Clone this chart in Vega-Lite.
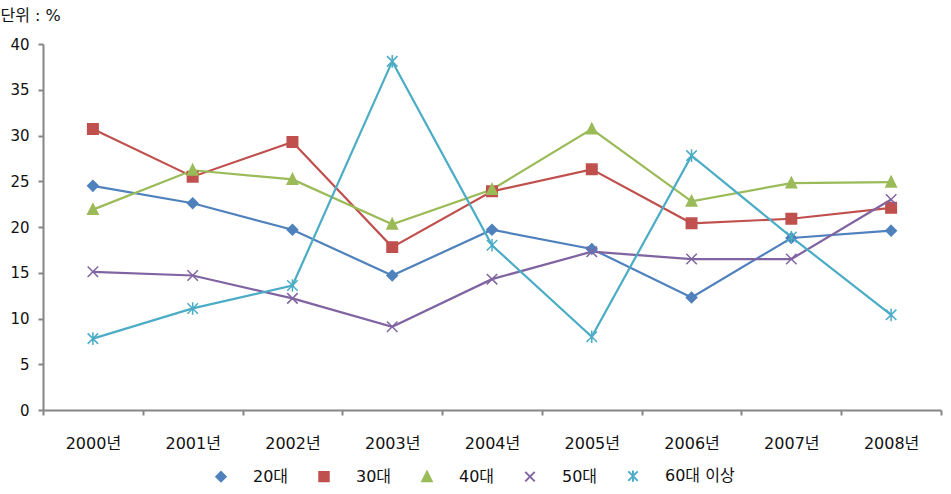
{
  "$schema": "https://vega.github.io/schema/vega-lite/v6.json",
  "width": 898,
  "height": 366,
  "autosize": "none",
  "padding": {"left": 43, "top": 44, "right": 10, "bottom": 84},
  "background": "white",
  "config": {
    "view": {"stroke": null},
    "font": "DejaVu Sans, Noto Sans CJK KR",
    "axis": {"grid": false, "domainColor": "#868686", "domainWidth": 2, "tickColor": "#868686", "tickWidth": 2, "tickSize": 5, "labelColor": "#111", "labelFont": "DejaVu Sans, Noto Sans CJK KR", "labelFontSize": 15},
    "legend": {"title": null, "orient": "none", "legendX": 170, "legendY": 424, "direction": "horizontal", "columns": 5,
      "symbolSize": 90, "labelFontSize": 16, "labelFont": "DejaVu Sans, Noto Sans CJK KR", "labelColor": "#111",
      "labelOffset": 24, "columnPadding": 26, "symbolStrokeWidth": 2}
  },
  "data": {"values": [
    {"year": "2000년", "group": "20대", "value": 24.5},
    {"year": "2001년", "group": "20대", "value": 22.6},
    {"year": "2002년", "group": "20대", "value": 19.7},
    {"year": "2003년", "group": "20대", "value": 14.7},
    {"year": "2004년", "group": "20대", "value": 19.7},
    {"year": "2005년", "group": "20대", "value": 17.6},
    {"year": "2006년", "group": "20대", "value": 12.3},
    {"year": "2007년", "group": "20대", "value": 18.8},
    {"year": "2008년", "group": "20대", "value": 19.6},
    {"year": "2000년", "group": "30대", "value": 30.7},
    {"year": "2001년", "group": "30대", "value": 25.5},
    {"year": "2002년", "group": "30대", "value": 29.3},
    {"year": "2003년", "group": "30대", "value": 17.8},
    {"year": "2004년", "group": "30대", "value": 23.9},
    {"year": "2005년", "group": "30대", "value": 26.3},
    {"year": "2006년", "group": "30대", "value": 20.4},
    {"year": "2007년", "group": "30대", "value": 20.9},
    {"year": "2008년", "group": "30대", "value": 22.1},
    {"year": "2000년", "group": "40대", "value": 21.9},
    {"year": "2001년", "group": "40대", "value": 26.2},
    {"year": "2002년", "group": "40대", "value": 25.2},
    {"year": "2003년", "group": "40대", "value": 20.3},
    {"year": "2004년", "group": "40대", "value": 24.1},
    {"year": "2005년", "group": "40대", "value": 30.7},
    {"year": "2006년", "group": "40대", "value": 22.8},
    {"year": "2007년", "group": "40대", "value": 24.8},
    {"year": "2008년", "group": "40대", "value": 24.9},
    {"year": "2000년", "group": "50대", "value": 15.1},
    {"year": "2001년", "group": "50대", "value": 14.7},
    {"year": "2002년", "group": "50대", "value": 12.2},
    {"year": "2003년", "group": "50대", "value": 9.1},
    {"year": "2004년", "group": "50대", "value": 14.3},
    {"year": "2005년", "group": "50대", "value": 17.3},
    {"year": "2006년", "group": "50대", "value": 16.5},
    {"year": "2007년", "group": "50대", "value": 16.5},
    {"year": "2008년", "group": "50대", "value": 23.0},
    {"year": "2000년", "group": "60대 이상", "value": 7.8},
    {"year": "2001년", "group": "60대 이상", "value": 11.1},
    {"year": "2002년", "group": "60대 이상", "value": 13.6},
    {"year": "2003년", "group": "60대 이상", "value": 38.1},
    {"year": "2004년", "group": "60대 이상", "value": 18.0},
    {"year": "2005년", "group": "60대 이상", "value": 8.0},
    {"year": "2006년", "group": "60대 이상", "value": 27.8},
    {"year": "2007년", "group": "60대 이상", "value": 18.9},
    {"year": "2008년", "group": "60대 이상", "value": 10.4}
  ]},
  "encoding": {
    "x": {"field": "year", "type": "ordinal", "scale": {"type": "band", "paddingInner": 0, "paddingOuter": 0},
      "axis": {"title": null, "labelAngle": 0, "tickBand": "extent", "labelPadding": 20, "labelFontSize": 16}},
    "y": {"field": "value", "type": "quantitative", "scale": {"domain": [0, 40], "nice": false},
      "axis": {"values": [0, 5, 10, 15, 20, 25, 30, 35, 40], "labelPadding": 9,
        "title": "단위 : %", "titleAngle": 0, "titleX": -43, "titleY": -24, "titleAlign": "left", "titleBaseline": "alphabetic",
        "titleFont": "DejaVu Sans, Noto Sans CJK KR", "titleFontSize": 16, "titleFontWeight": "normal", "titleColor": "#111"}}
  },
  "layer": [
    {
      "mark": {"type": "line", "strokeWidth": 2.2},
      "encoding": {
        "color": {"field": "group", "type": "nominal",
          "scale": {"domain": ["20대", "30대", "40대", "50대", "60대 이상"], "range": ["#4F81BD", "#C0504D", "#9BBB59", "#8064A2", "#4BACC6"]},
          "legend": {"encode": {"symbols": {"update": {"shape": {"signal": "scale('shape', datum.value) + 'M-4,0L4,0'"}}}}}
        }
      }
    },
    {
      "mark": {"type": "point", "filled": true, "opacity": 1, "size": 110, "strokeWidth": 1.5},
      "encoding": {
        "color": {"field": "group", "type": "nominal",
          "legend": {"encode": {"symbols": {"update": {"shape": {"signal": "scale('shape', datum.value) + 'M-4,0L4,0'"}}}}}},
        "stroke": {"field": "group", "type": "nominal",
          "scale": {"domain": ["20대", "30대", "40대", "50대", "60대 이상"], "range": ["#4F81BD", "#C0504D", "#9BBB59", "#8064A2", "#4BACC6"]},
          "legend": {"encode": {"symbols": {"update": {"shape": {"signal": "scale('shape', datum.value) + 'M-4,0L4,0'"}}}}}},
        "shape": {"field": "group", "type": "nominal",
          "scale": {"domain": ["20대", "30대", "40대", "50대", "60대 이상"],
            "range": ["M0,-1L1,0L0,1L-1,0Z", "M-1,-1H1V1H-1Z", "M0,-1.1L1,0.9H-1Z", "M-1,-1L1,1M-1,1L1,-1", "M-1,-1L1,1M-1,1L1,-1M0,-1.2V1.2"]},
          "legend": {"encode": {"symbols": {"update": {"shape": {"signal": "scale('shape', datum.value) + 'M-4,0L4,0'"}}}}}
        }
      }
    }
  ]
}
